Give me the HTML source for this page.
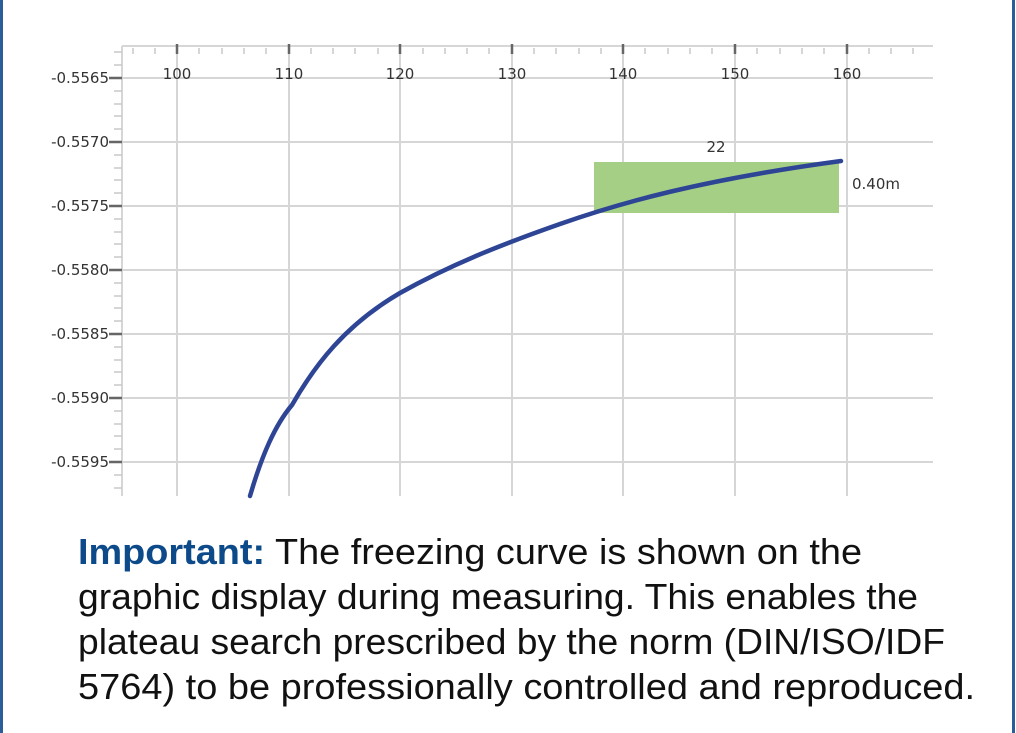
<!DOCTYPE html><html><head><style>body{margin:0;background:#fff}svg{display:block}</style></head><body>
<svg width="1016" height="733" xmlns="http://www.w3.org/2000/svg" font-family="DejaVu Sans, Liberation Sans, sans-serif">
<rect x="0" y="0" width="3" height="733" fill="#2a5d9a"/>
<rect x="1012" y="0" width="3" height="733" fill="#2a5d9a"/>
<g stroke="#d6d6d6" stroke-width="2">
<line x1="122" y1="46" x2="933" y2="46"/>
<line x1="122" y1="46" x2="122" y2="496"/>
<line x1="122" y1="78" x2="933" y2="78"/><line x1="122" y1="142" x2="933" y2="142"/><line x1="122" y1="206" x2="933" y2="206"/><line x1="122" y1="270" x2="933" y2="270"/><line x1="122" y1="334" x2="933" y2="334"/><line x1="122" y1="398" x2="933" y2="398"/><line x1="122" y1="462" x2="933" y2="462"/>
<line x1="177" y1="46" x2="177" y2="496"/><line x1="289" y1="46" x2="289" y2="496"/><line x1="400" y1="46" x2="400" y2="496"/><line x1="512" y1="46" x2="512" y2="496"/><line x1="623" y1="46" x2="623" y2="496"/><line x1="735" y1="46" x2="735" y2="496"/><line x1="847" y1="46" x2="847" y2="496"/>
</g>
<g stroke="#c8c8c8" stroke-width="1.5">
<path d="M133 48v6M155 48v6M199 48v6M222 48v6M244 48v6M266 48v6M311 48v6M333 48v6M355 48v6M378 48v6M423 48v6M445 48v6M467 48v6M489 48v6M534 48v6M556 48v6M579 48v6M601 48v6M645 48v6M668 48v6M690 48v6M712 48v6M757 48v6M780 48v6M802 48v6M824 48v6M869 48v6M891 48v6M913 48v6"/>
<path d="M114 52h8M114 65h8M114 91h8M114 104h8M114 116h8M114 129h8M114 155h8M114 168h8M114 180h8M114 193h8M114 219h8M114 232h8M114 244h8M114 257h8M114 283h8M114 296h8M114 308h8M114 321h8M114 347h8M114 360h8M114 372h8M114 385h8M114 411h8M114 424h8M114 436h8M114 449h8M114 475h8M114 488h8"/>
</g>
<g stroke="#666" stroke-width="2.5">
<path d="M177 44v10M289 44v10M400 44v10M512 44v10M623 44v10M735 44v10M847 44v10"/>
<path d="M109 78h13M109 142h13M109 206h13M109 270h13M109 334h13M109 398h13M109 462h13"/>
</g>
<g font-size="15" fill="#333">
<g text-anchor="end"><text x="109" y="83">-0.5565</text><text x="109" y="147">-0.5570</text><text x="109" y="211">-0.5575</text><text x="109" y="275">-0.5580</text><text x="109" y="339">-0.5585</text><text x="109" y="403">-0.5590</text><text x="109" y="467">-0.5595</text></g>
<g text-anchor="middle"><text x="177" y="79">100</text><text x="289" y="79">110</text><text x="400" y="79">120</text><text x="512" y="79">130</text><text x="623" y="79">140</text><text x="735" y="79">150</text><text x="847" y="79">160</text><text x="716" y="152">22</text></g>
<text x="852" y="189">0.40m</text>
</g>
<rect x="594" y="162" width="245" height="51" fill="#a6cf86"/>
<path d="M250 496 C262 455 275 425 292 405 C315 365 345 325 400 293 C450 265 500 245 560 224 C620 203 700 180 841 161" fill="none" stroke="#2e4595" stroke-width="4.5" stroke-linecap="round"/>
<g font-family="Liberation Sans, sans-serif" font-size="36" fill="#111" lengthAdjust="spacingAndGlyphs">
<text x="78" y="564" textLength="784" lengthAdjust="spacingAndGlyphs"><tspan font-weight="bold" fill="#0d4a8a">Important:</tspan> The freezing curve is shown on the</text>
<text x="78" y="609" textLength="840" lengthAdjust="spacingAndGlyphs">graphic display during measuring. This enables the</text>
<text x="78" y="654" textLength="867" lengthAdjust="spacingAndGlyphs">plateau search prescribed by the norm (DIN/ISO/IDF</text>
<text x="78" y="699" textLength="897" lengthAdjust="spacingAndGlyphs">5764) to be professionally controlled and reproduced.</text>
</g>
</svg></body></html>
